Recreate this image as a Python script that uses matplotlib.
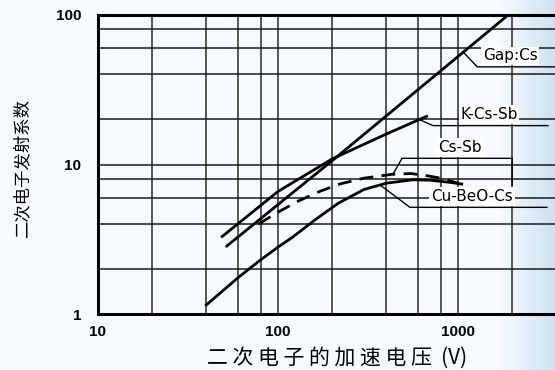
import numpy as np
import matplotlib.pyplot as plt

# accelerating voltage (V) vs secondary emission ratio
gap_v = [52, 200, 1900]
gap_d = [2.85, 10.6, 100]

kcs_v = [49, 100, 200, 400, 670]
kcs_d = [3.3, 6.6, 10.9, 16.0, 21.0]

cssb_v = [78, 100, 130, 170, 220, 300, 430, 550, 680, 800, 1000]
cssb_d = [4.0, 4.8, 5.7, 6.6, 7.4, 8.1, 8.6, 8.7, 8.4, 8.1, 7.5]

cube_v = [40, 60, 80, 100, 120, 160, 216, 300, 400, 560, 700, 900, 1050]
cube_d = [1.15, 1.75, 2.3, 2.8, 3.25, 4.25, 5.5, 6.8, 7.5, 7.9, 7.85, 7.6, 7.4]

x_grid = [20, 40, 60, 80, 100, 200, 400, 600, 800, 1000, 2000]
y_grid = [2, 4, 6, 8, 10, 20, 40, 60, 80]
x_ticks = [10, 100, 1000]
y_ticks = [1, 10, 100]


def on_curve(xs, ys, x):
    return 10 ** np.interp(np.log10(x), np.log10(xs), np.log10(ys))


fig = plt.figure(figsize=(5.55, 3.7), dpi=100)

# faint blue tint of the scan at the right edge
bg = fig.add_axes([0, 0, 1, 1], zorder=0)
grad = np.clip((np.linspace(0, 1, 200) - 0.9) / 0.1, 0, 1)[None, :]
bg.imshow(grad, cmap='Blues', vmin=0, vmax=5, aspect='auto', extent=[0, 1, 0, 1])
bg.axis('off')

ax = fig.add_axes([98 / 555, 1 - 314 / 370, 1 - 98 / 555, 299 / 370], zorder=1)
ax.set_facecolor('none')
ax.set_xscale('log')
ax.set_yscale('log')
ax.set_xlim(10, 3460)
ax.set_ylim(1, 100)

for v in x_grid:
    ax.axvline(v, color='#555555', lw=1.4, zorder=1)
for v in y_grid:
    ax.axhline(v, color='#1a1a1a', lw=1.1, zorder=1)

lw = 2.0
ax.plot(gap_v, gap_d, color='black', lw=lw, zorder=3)
ax.plot(kcs_v, kcs_d, color='black', lw=lw, zorder=3)
ax.plot(cssb_v, cssb_d, color='black', lw=lw, ls=(0, (5, 3)), zorder=3)
ax.plot(cube_v, cube_d, color='black', lw=lw, zorder=3)

# labels with leader lines
lead = dict(color='black', lw=1.0, zorder=4)
box = dict(facecolor='white', edgecolor='none', pad=1.2)
lab_font = dict(fontsize=11, family='DejaVu Sans', ha='center', va='bottom', zorder=5, bbox=box)

x0 = 1070
ax.plot([x0, 1280, 3460], [on_curve(gap_v, gap_d, x0), 45, 45], **lead)
ax.text(1950, 47.5, 'Gap:Cs', **lab_font)

x0 = 610
ax.plot([x0, 726, 3162], [on_curve(kcs_v, kcs_d, x0), 18.2, 18.2], **lead)
ax.text(1486, 19.2, 'K-Cs-Sb', **lab_font)

x0 = 435
ax.plot([x0, 489, 2000, 2000], [on_curve(cssb_v, cssb_d, x0), 11, 11, 7.3], **lead)
ax.text(1026, 11.6, 'Cs-Sb', **lab_font)

x0 = 369
ax.plot([x0, 541, 3120], [on_curve(cube_v, cube_d, x0), 5.17, 5.17], **lead)
ax.text(1197, 5.45, 'Cu-BeO-Cs', **lab_font)

for s in ['left', 'bottom', 'top']:
    ax.spines[s].set_linewidth(2.2)
ax.spines['right'].set_visible(False)

ax.set_xticks(x_ticks)
ax.set_xticklabels([str(t) for t in x_ticks])
ax.set_yticks(y_ticks)
ax.set_yticklabels([str(t) for t in y_ticks])
ax.minorticks_off()
ax.tick_params(axis='both', length=0, labelsize=11)
ax.tick_params(axis='x', pad=8)
ax.tick_params(axis='y', pad=12)
for t in ax.get_xticklabels() + ax.get_yticklabels():
    t.set_fontweight('bold')
    t.set_family('Liberation Sans')

fig.text(337 / 555, 1 - 358 / 370, '二 次 电 子 的 加 速 电 压  (V)',
         family=['Noto Sans CJK SC', 'DejaVu Sans'], fontsize=15,
         ha='center', va='center')
fig.text(22 / 555, 1 - 168 / 370, '二次电子发射系数',
         family=['Noto Sans CJK SC', 'DejaVu Sans'], fontsize=12.5,
         rotation=90, ha='center', va='center')

fig.savefig('out.png', dpi=100)
